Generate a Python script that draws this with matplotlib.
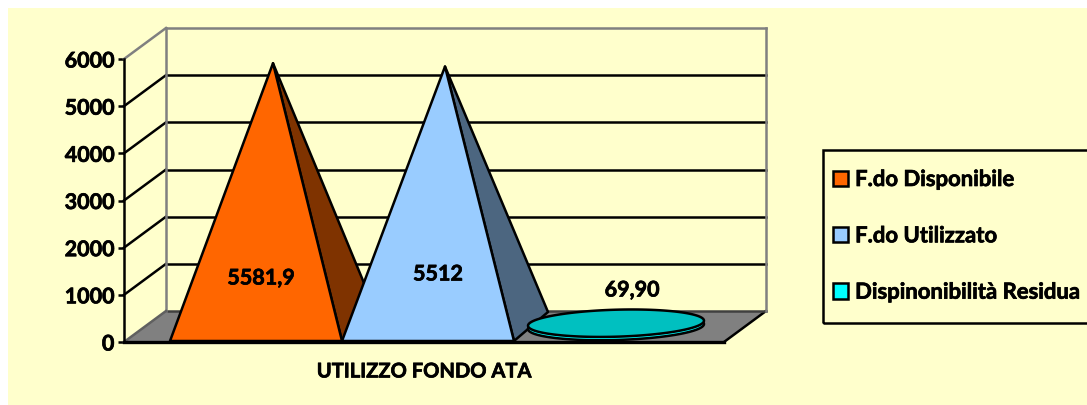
import numpy as np
import matplotlib
matplotlib.use('Agg')
import matplotlib.pyplot as plt
import matplotlib.patheffects as pe
from matplotlib.patches import Patch, Polygon, Rectangle

# data
# -----------------------------------
category = 'UTILIZZO FONDO ATA'
series_names = ['F.do Disponibile', 'F.do Utilizzato', 'Dispinonibilità Residua']
series_values = [5581.9, 5512, 69.90]
value_labels = ['5581,9', '5512', '69,90']
y_ticks = [0, 1000, 2000, 3000, 4000, 5000, 6000]

# styles
# -----------------------------------
BG = '#FFFFCC'
FRONT_COLORS = ['#FF6600', '#99CCFF', '#00C0C0']
SIDE_COLORS = ['#7F3300', '#4C6680', '#00FFFF']
LEGEND_COLORS = ['#FF6600', '#99CCFF', '#00FFFF']
WALL = '#808080'
LW = 1.8
FONT = 'Lato'
FS = 15.5
# Lato bold is lighter than the original face, thicken it a bit
HEAVY = [pe.withStroke(linewidth=0.5, foreground='black')]

W, H = 1087, 405
LEFT, RIGHT, TOP, BOTTOM = 124, 724, 59, 342
X_PX = 1.0 / (RIGHT - LEFT)
Y_PX = 6000.0 / (BOTTOM - TOP)

# 3d look: depth of the box, given in data units
DEPTH_X = 42 * X_PX
DEPTH_Y = 31 * Y_PX
BAR_W = 172 * X_PX
BAR_START = 46 * X_PX


def line(ax, x, y, color='black', lw=LW, zorder=2):
    ax.plot(x, y, color=color, lw=lw, clip_on=False, zorder=zorder, solid_capstyle='projecting')


def poly(ax, pts, color, zorder, lw=LW):
    ax.add_patch(Polygon(pts, closed=True, facecolor=color, edgecolor='black', lw=lw,
                         joinstyle='round', clip_on=False, zorder=zorder))


def draw_box(ax):
    # floor
    poly(ax, [(0, 0), (1, 0), (1 + DEPTH_X, DEPTH_Y), (DEPTH_X, DEPTH_Y)], WALL, 1, lw=0)
    line(ax, [1, 1 + DEPTH_X], [0, DEPTH_Y], zorder=2)
    line(ax, [DEPTH_X, 1 + DEPTH_X], [DEPTH_Y, DEPTH_Y], color='#404040', zorder=2)
    # grid lines on back and side wall
    for val in y_ticks[1:-1]:
        line(ax, [DEPTH_X, 1 + DEPTH_X], [val + DEPTH_Y, val + DEPTH_Y], zorder=1.5)
        line(ax, [0, DEPTH_X], [val, val + DEPTH_Y], zorder=1.5)
    # wall outline
    top = 6000
    line(ax, [0, DEPTH_X], [top, top + DEPTH_Y], color=WALL)
    line(ax, [DEPTH_X, 1 + DEPTH_X], [top + DEPTH_Y, top + DEPTH_Y], color=WALL)
    line(ax, [DEPTH_X, DEPTH_X], [DEPTH_Y, top + DEPTH_Y], color=WALL)
    line(ax, [1 + DEPTH_X, 1 + DEPTH_X], [DEPTH_Y, top + DEPTH_Y], color=WALL)
    line(ax, [0, DEPTH_X], [0, DEPTH_Y], color='#606060')


def draw_pyramid(ax, idx):
    x0 = BAR_START + idx * BAR_W
    x1 = x0 + BAR_W
    xc = (x0 + x1) / 2
    y0 = 1 * Y_PX
    apex = (xc + 17 * X_PX, series_values[idx] + 15.5 * Y_PX)
    corner = (x1 + 34 * X_PX, 30 * Y_PX)
    z = 3 + idx
    poly(ax, [apex, (x1, y0), corner], SIDE_COLORS[idx], z)
    poly(ax, [(x0, y0), (x1, y0), apex], FRONT_COLORS[idx], z + 0.1)


def disc_points(xc, yc, a, b, tilt):
    t = np.linspace(0, 2 * np.pi, 120)
    return np.column_stack([xc + a * np.cos(t), yc + b * np.sin(t) + tilt * np.cos(t)])


def draw_disc(ax, idx):
    x0 = BAR_START + idx * BAR_W
    xc = x0 + BAR_W / 2 + 16 * X_PX
    yc = 15.5 * Y_PX
    a = 88 * X_PX
    b = 13.5 * Y_PX
    tilt = 2.5 * Y_PX
    poly(ax, disc_points(xc, yc, a, b, tilt), SIDE_COLORS[idx], 6)
    poly(ax, disc_points(xc, yc + series_values[idx], a, b, tilt), FRONT_COLORS[idx], 6.1)


if __name__ == '__main__':
    plt.rcParams['font.family'] = [FONT, 'DejaVu Sans']
    plt.rcParams['font.weight'] = 'bold'

    fig = plt.figure(figsize=(W / 100, H / 100), dpi=100, facecolor='white')
    fig.patches.append(Rectangle((8 / W, 0), 1 - 8 / W, 1 - 8 / H, transform=fig.transFigure,
                                 facecolor=BG, edgecolor='none', zorder=-5))
    # legend frame runs off the right edge of the picture
    fig.patches.append(Rectangle((823 / W, 1 - 323 / H), 270 / W, 173 / H, transform=fig.transFigure,
                                 facecolor='none', edgecolor='black', lw=LW, zorder=-4))

    ax = fig.add_axes([LEFT / W, 1 - BOTTOM / H, (RIGHT - LEFT) / W, (BOTTOM - TOP) / H])
    ax.patch.set_visible(False)
    ax.set_xlim(0, 1)
    ax.set_ylim(0, 6000)
    for side in ['top', 'right']:
        ax.spines[side].set_visible(False)
    ax.spines['left'].set_linewidth(LW)
    ax.spines['bottom'].set_linewidth(2.4)
    ax.spines['left'].set_zorder(8)
    ax.spines['bottom'].set_zorder(8)

    ax.set_yticks(y_ticks)
    ax.tick_params(axis='y', length=4, width=LW, pad=3, labelsize=FS)
    ax.set_xticks([0.5])
    ax.set_xticklabels([category], fontsize=14.5, fontweight='bold')
    ax.tick_params(axis='x', length=0, pad=14)
    for lbl in ax.get_yticklabels() + ax.get_xticklabels():
        lbl.set_fontweight('bold')
        lbl.set_path_effects(HEAVY)

    draw_box(ax)
    draw_pyramid(ax, 0)
    draw_pyramid(ax, 1)
    draw_disc(ax, 2)

    # value labels
    label_x = [261, 438, 632]
    label_y = [278, 274, 290]
    for i, txt in enumerate(value_labels):
        ax.text((label_x[i] - LEFT) * X_PX, (BOTTOM - label_y[i]) * Y_PX, txt, ha='center', va='center',
                fontsize=FS, fontweight='bold', color='black', zorder=9, path_effects=HEAVY)

    handles = [Patch(facecolor=c, edgecolor='black', lw=LW) for c in LEGEND_COLORS]
    leg = ax.legend(handles, series_names, loc='upper left', bbox_to_anchor=(833 / W, 1 - 169 / H),
                    bbox_transform=fig.transFigure, borderaxespad=0, frameon=False, borderpad=0,
                    prop={'size': 15.9, 'weight': 'bold'}, handlelength=0.68,
                    handleheight=0.68, handletextpad=0.32, labelspacing=1.6)
    leg.set_zorder(10)
    for txt in leg.get_texts():
        txt.set_path_effects(HEAVY)

    fig.savefig('out.png', dpi=100, facecolor=fig.get_facecolor())
